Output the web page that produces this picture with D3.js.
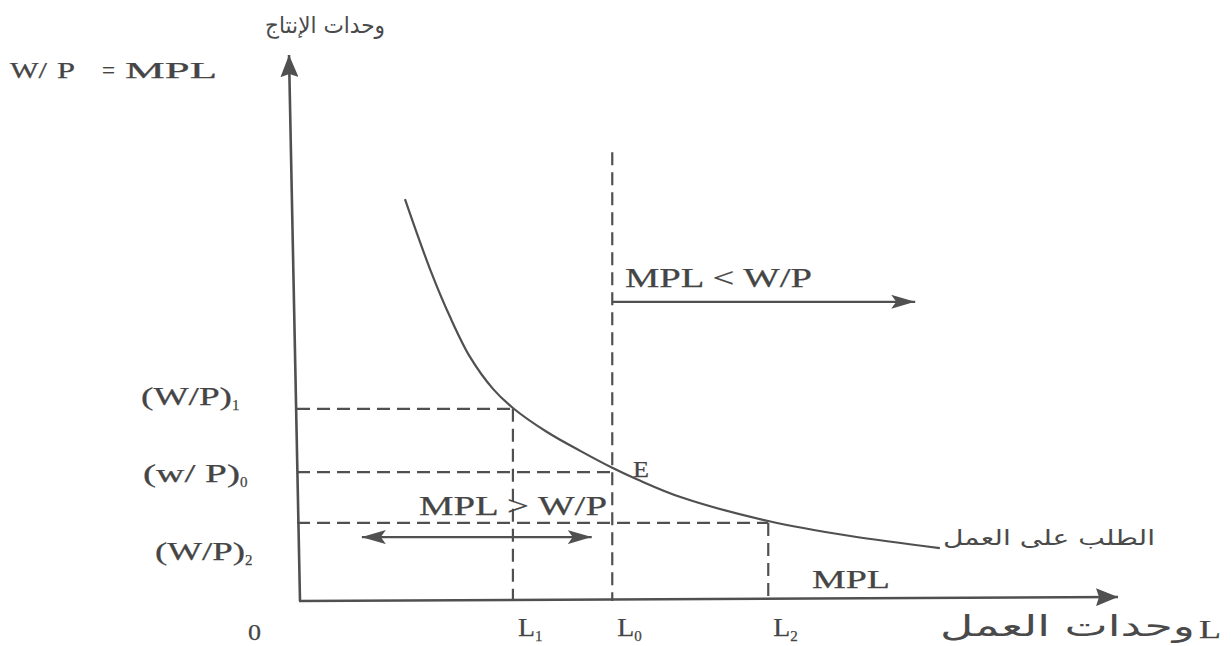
<!DOCTYPE html>
<html>
<head>
<meta charset="utf-8">
<script src="https://cdn.jsdelivr.net/npm/d3@7/dist/d3.min.js"></script>
<style>
  html, body { margin: 0; padding: 0; background: #ffffff; }
  svg { display: block; }
  .serif { font-family: "Liberation Serif", "DejaVu Serif", serif; fill: #454545; stroke: #454545; stroke-width: 0.25; }
  .arabic { font-family: "DejaVu Sans", "Noto Sans", sans-serif; fill: #4a4a4a; }
</style>
</head>
<body>
<svg id="chart" width="1231" height="646"></svg>
<script>
// ---------- data (abstract units) ----------
const laborNames = ["L", "L", "L"];
const laborSubs = ["1", "0", "2"];
const laborLevels = [26.3, 38.4, 57.4];          // L1, L0, L2
const wageNames = ["(W/P)", "(w/ P)", "(W/P)"];
const wageSubs = ["1", "0", "2"];
const wageLevels = [35.2, 23.6, 14.3];           // (W/P)1, (w/P)0, (W/P)2
const curveL   = [13.15, 16.2, 18.65, 21.07, 23.9, 26.3, 30.45, 34.5, 38.4, 41.4, 46.8, 57.4, 67.4, 78.3];
const curveMPL = [73.6, 60.8, 52.0, 44.7, 38.8, 35.35, 30.95, 27.5, 24.4, 22.3, 19.0, 14.65, 11.9, 9.7];
const l0LineTop = 82.2;
const rightArrow = { y: 54.8, x0: 38.4, x1: 75.3 };
const doubleArrow = { y: 11.7, x0: 7.9, x1: 35.9 };
const labelTopLeft = ["W/", "P", "=", "MPL"];
const labelYAxis = "وحدات الإنتاج";
const labelXAxis = "وحدات العمل";
const labelDemand = "الطلب على العمل";
const labelRight = "MPL < W/P";
const labelLeft = "MPL > W/P";

// ---------- scales ----------
const svg = d3.select("#chart");
const x = d3.scaleLinear().domain([0, 100]).range([297, 1118]);
const y = d3.scaleLinear().domain([0, 100]).range([601, 55]);
const ink = "#505050";

// markers
const defs = svg.append("defs");
defs.append("marker").attr("id", "head")
  .attr("viewBox", "0 0 24 14").attr("refX", 24).attr("refY", 7)
  .attr("markerWidth", 24).attr("markerHeight", 14).attr("markerUnits", "userSpaceOnUse")
  .attr("orient", "auto-start-reverse")
  .append("path").attr("d", "M0,0 L24,7 L0,14 L5,7 Z").attr("fill", ink);
defs.append("marker").attr("id", "axhead")
  .attr("viewBox", "0 0 22 18").attr("refX", 22).attr("refY", 9)
  .attr("markerWidth", 22).attr("markerHeight", 18).attr("markerUnits", "userSpaceOnUse")
  .attr("orient", "auto")
  .append("path").attr("d", "M0,0 L22,9 L0,18 L3,9 Z").attr("fill", ink);

// ---------- dashed guides ----------
const dash = "13,7";
const g = svg.append("g").attr("stroke", ink).attr("stroke-width", 2.2).attr("fill", "none");
wageLevels.forEach((w, i) => {
  g.append("line").attr("x1", x(0)).attr("x2", x(laborLevels[i]))
    .attr("y1", y(w)).attr("y2", y(w)).attr("stroke-dasharray", dash);
});
[0, 2].forEach(i => {
  g.append("line").attr("x1", x(laborLevels[i])).attr("x2", x(laborLevels[i]))
    .attr("y1", y(wageLevels[i])).attr("y2", y(0)).attr("stroke-dasharray", dash);
});
g.append("line").attr("x1", x(laborLevels[1])).attr("x2", x(laborLevels[1]))
  .attr("y1", y(l0LineTop)).attr("y2", y(0)).attr("stroke-dasharray", dash);

// ---------- axes ----------
svg.append("line").attr("x1", x(0) + 3).attr("y1", y(0)).attr("x2", x(0) - 8).attr("y2", y(100))
  .attr("stroke", ink).attr("stroke-width", 2.6).attr("marker-end", "url(#axhead)");
svg.append("line").attr("x1", x(0) + 2).attr("y1", y(0)).attr("x2", x(100)).attr("y2", y(0) - 4)
  .attr("stroke", ink).attr("stroke-width", 2.6).attr("marker-end", "url(#axhead)");

// ---------- demand curve ----------
const pts = curveL.map((l, i) => [l, curveMPL[i]]);
svg.append("path").datum(pts)
  .attr("d", d3.line().x(d => x(d[0])).y(d => y(d[1])).curve(d3.curveCatmullRom.alpha(0.5)))
  .attr("fill", "none").attr("stroke", ink).attr("stroke-width", 2.2);

// ---------- arrows ----------
svg.append("line").attr("x1", x(rightArrow.x0)).attr("x2", x(rightArrow.x1))
  .attr("y1", y(rightArrow.y)).attr("y2", y(rightArrow.y))
  .attr("stroke", ink).attr("stroke-width", 2.2).attr("marker-end", "url(#head)");
svg.append("line").attr("x1", x(doubleArrow.x0)).attr("x2", x(doubleArrow.x1))
  .attr("y1", y(doubleArrow.y)).attr("y2", y(doubleArrow.y))
  .attr("stroke", ink).attr("stroke-width", 2.2)
  .attr("marker-start", "url(#head)").attr("marker-end", "url(#head)");

// ---------- text ----------
function label(xp, yp, str, size, len, sub) {
  const t = svg.append("text").attr("class", "serif").attr("x", xp).attr("y", yp)
    .attr("font-size", size);
  const main = t.append("tspan").text(str);
  if (len) main.attr("textLength", len).attr("lengthAdjust", "spacingAndGlyphs");
  if (sub !== undefined) {
    t.append("tspan").attr("font-size", size * 0.6).attr("dy", size * 0.2).text(sub);
  }
  return t;
}
const wageX = [141, 143, 155], wageDy = [-4, 10, 37], wageLen = [91, 97, 90];
wageLevels.forEach((w, i) => {
  label(wageX[i], y(w) + wageDy[i], wageNames[i], 25, wageLen[i], wageSubs[i]);
});
laborLevels.forEach((l, i) => {
  label(x(l) + 5, 636, laborNames[i], 25, 17, laborSubs[i]);
});
label(248, 640, "0", 24, 13);

const tlX = [10, 57, 102, 125], tlLen = [37, 18, 13, 92];
labelTopLeft.forEach((s, i) => label(tlX[i], 78, s, 23, tlLen[i]));

svg.append("text").attr("class", "arabic").attr("x", 265).attr("y", 33).attr("font-size", 23)
  .attr("textLength", 120).attr("lengthAdjust", "spacingAndGlyphs").text(labelYAxis);

label(625, 287, labelRight, 27, 187);
label(419, 515, labelLeft, 27, 188);
label(633, 477, "E", 23, 16);
label(812, 588, "MPL", 26, 78);
svg.append("text").attr("class", "arabic").attr("x", 943).attr("y", 545).attr("font-size", 21)
  .attr("textLength", 212).attr("lengthAdjust", "spacingAndGlyphs").text(labelDemand);
label(1199, 638, "L", 26, 22);
svg.append("text").attr("class", "arabic").attr("x", 940).attr("y", 636).attr("font-size", 29)
  .attr("textLength", 255).attr("lengthAdjust", "spacingAndGlyphs").text(labelXAxis);
</script>
</body>
</html>
